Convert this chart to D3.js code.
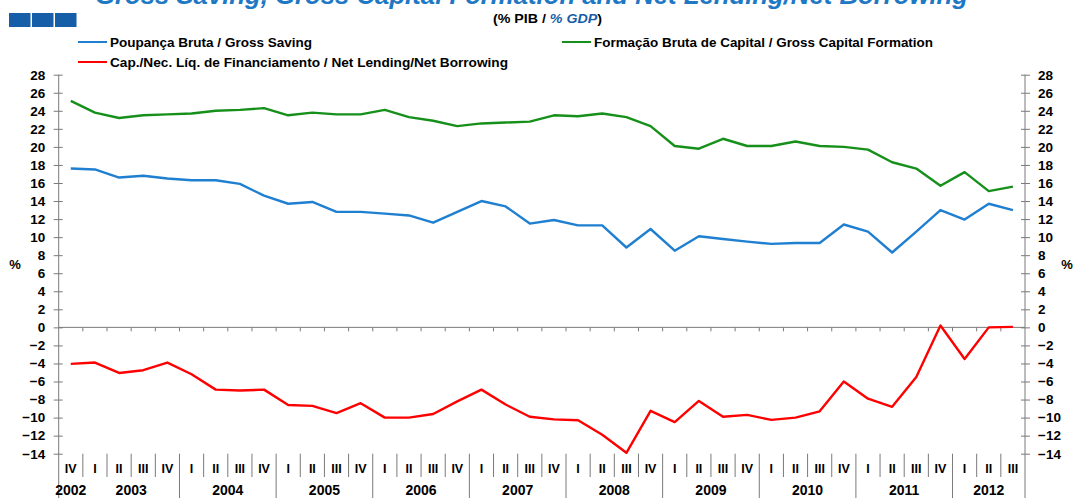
<!DOCTYPE html>
<html>
<head>
<meta charset="utf-8">
<script src="https://cdn.jsdelivr.net/npm/d3@7.9.0/dist/d3.min.js"></script>
<style>
  html, body { margin: 0; padding: 0; background: #fff; }
  svg { display: block; font-family: "Liberation Sans", Arial, sans-serif; }
</style>
</head>
<body>
<svg id="chart" width="1074" height="498"></svg>
<script>
// quarter labels, 2002 IV .. 2012 III
const quarterLabels = ['IV',
  'I','II','III','IV', 'I','II','III','IV', 'I','II','III','IV', 'I','II','III','IV',
  'I','II','III','IV', 'I','II','III','IV', 'I','II','III','IV', 'I','II','III','IV',
  'I','II','III','IV', 'I','II','III'];
const years = ['2002','2003','2004','2005','2006','2007','2008','2009','2010','2011','2012'];

// % of GDP
const grossSaving = [17.6,17.5,16.6,16.8,16.5,16.3,16.3,15.9,14.6,13.7,13.9,12.8,12.8,12.6,12.4,11.6,
  12.8,14.0,13.4,11.5,11.9,11.3,11.3,8.85,10.9,8.5,10.1,9.8,9.5,9.25,9.35,9.35,11.4,10.6,8.3,10.6,
  13.0,11.95,13.7,13.0];
const grossCapital = [25.1,23.8,23.2,23.5,23.6,23.7,24.0,24.1,24.3,23.5,23.8,23.6,23.6,24.1,23.3,22.9,
  22.3,22.6,22.7,22.8,23.5,23.4,23.7,23.3,22.3,20.1,19.8,20.9,20.1,20.1,20.6,20.1,20.0,19.7,18.3,17.6,
  15.7,17.2,15.1,15.6];
const netLending = [-4.05,-3.9,-5.05,-4.75,-3.9,-5.2,-6.9,-7.0,-6.9,-8.6,-8.7,-9.5,-8.4,-10.0,-10.0,-9.6,
  -8.2,-6.9,-8.55,-9.9,-10.2,-10.3,-11.9,-13.9,-9.25,-10.5,-8.15,-9.9,-9.7,-10.25,-10.0,-9.3,-6.0,-7.9,
  -8.8,-5.5,0.2,-3.5,0.0,0.05];

const yTicks = d3.range(-14, 29, 2);

const series = [
  { name: 'Poupança Bruta / Gross Saving', values: grossSaving, color: '#1f7fd0' },
  { name: 'Formação Bruta de Capital / Gross Capital Formation', values: grossCapital, color: '#16901a' },
  { name: 'Cap./Nec. Líq. de Financiamento / Net Lending/Net Borrowing', values: netLending, color: '#ff0000' }
];

const W = 1074, H = 498;
const plotL = 58.7, plotR = 1025, plotT = 74.7, plotB = 453.7;
const axisColor = '#7a7a7a';

const svg = d3.select('#chart');

const x = d3.scaleBand().domain(d3.range(quarterLabels.length)).range([plotL, plotR]);
const y = d3.scaleLinear().domain([-14, 28]).range([plotB, plotT]);
const cx = i => x(i) + x.bandwidth() / 2;

// title (cut off at the top, as in the source)
svg.append('text')
  .attr('x', 95).attr('y', 3.5)
  .attr('textLength', 873).attr('lengthAdjust', 'spacingAndGlyphs')
  .attr('font-size', 26).attr('font-weight', 'bold').attr('font-style', 'italic')
  .attr('fill', '#1f78c4')
  .text('Gross Saving, Gross Capital Formation and Net Lending/Net Borrowing');

// little blue blocks top left
svg.append('g').selectAll('rect').data([0, 1, 2]).join('rect')
  .attr('x', d => 9 + d * 23).attr('y', 13).attr('width', 21.5).attr('height', 14)
  .attr('fill', '#175ea8');

const sub = svg.append('text').attr('x', 493).attr('y', 23)
  .attr('textLength', 109).attr('lengthAdjust', 'spacingAndGlyphs')
  .attr('font-size', 12).attr('font-weight', 'bold').attr('fill', '#000');
sub.append('tspan').text('(% PIB / ');
sub.append('tspan').attr('fill', '#175ea8').attr('font-style', 'italic').text('% GDP');
sub.append('tspan').text(')');

// legend
const legendPos = [[78, 42], [562, 42], [78, 62]];
const legendWidth = [202, 339, 398];
const leg = svg.append('g');
series.forEach((s, i) => {
  const [lx, ly] = legendPos[i];
  leg.append('line').attr('x1', lx).attr('x2', lx + 29).attr('y1', ly).attr('y2', ly)
    .attr('stroke', s.color).attr('stroke-width', 2);
  leg.append('text').attr('x', lx + 32).attr('y', ly + 4.5)
    .attr('textLength', legendWidth[i]).attr('lengthAdjust', 'spacingAndGlyphs')
    .attr('font-size', 13.5).attr('font-weight', 'bold').text(s.name);
});

// y axes
function styleAxis(g, side) {
  g.select('.domain').remove();
  g.selectAll('.tick line').attr('stroke', axisColor)
    .attr('x1', side === 'left' ? 4 : -4).attr('x2', side === 'left' ? -5 : 5);
  g.selectAll('.tick text').attr('font-size', 13.5).attr('font-weight', 'bold')
    .attr('font-family', '"Liberation Sans", Arial, sans-serif').attr('fill', '#000');
}
svg.append('g').attr('transform', `translate(${plotL},0)`)
  .call(d3.axisLeft(y).tickValues(yTicks).tickSize(5).tickPadding(8.5))
  .call(g => styleAxis(g, 'left'));
svg.append('g').attr('transform', `translate(${plotR},0)`)
  .call(d3.axisRight(y).tickValues(yTicks).tickSize(5).tickPadding(8))
  .call(g => styleAxis(g, 'right'));

[plotL, plotR].forEach(ax => {
  svg.append('line').attr('x1', ax).attr('x2', ax).attr('y1', plotT).attr('y2', H)
    .attr('stroke', axisColor).attr('stroke-width', 1);
});

svg.append('text').attr('x', 15).attr('y', 269).attr('text-anchor', 'middle')
  .attr('font-size', 13).attr('font-weight', 'bold').text('%');
svg.append('text').attr('x', 1067).attr('y', 269).attr('text-anchor', 'middle')
  .attr('font-size', 13).attr('font-weight', 'bold').text('%');

// zero line with quarter ticks
svg.append('line').attr('x1', plotL).attr('x2', plotR).attr('y1', y(0)).attr('y2', y(0))
  .attr('stroke', axisColor);
svg.append('g').selectAll('line').data(d3.range(1, quarterLabels.length)).join('line')
  .attr('x1', d => x(d)).attr('x2', d => x(d))
  .attr('y1', y(0)).attr('y2', y(0) + 4).attr('stroke', axisColor);

// category axis below the plot
const cat = svg.append('g');
cat.selectAll('line.sep').data(d3.range(1, quarterLabels.length)).join('line')
  .attr('class', 'sep')
  .attr('x1', d => x(d)).attr('x2', d => x(d))
  .attr('y1', plotB)
  .attr('y2', d => (quarterLabels[d] === 'I' && d > 1) ? H : 477)
  .attr('stroke', axisColor);
cat.selectAll('text.q').data(quarterLabels).join('text')
  .attr('class', 'q')
  .attr('x', (d, i) => cx(i)).attr('y', 473)
  .attr('text-anchor', 'middle').attr('font-size', 12.5).attr('font-weight', 'bold')
  .text(d => d);

// year groups: a new year starts at every 'I'
const yearStarts = [0].concat(d3.range(1, quarterLabels.length).filter(i => quarterLabels[i] === 'I'));
cat.selectAll('text.yr').data(years).join('text')
  .attr('class', 'yr')
  .attr('x', (d, i) => {
    const a = yearStarts[i];
    const b = (i + 1 < yearStarts.length ? yearStarts[i + 1] : quarterLabels.length) - 1;
    return (cx(a) + cx(b)) / 2;
  })
  .attr('y', 495)
  .attr('text-anchor', 'middle').attr('font-size', 14).attr('font-weight', 'bold')
  .text(d => d);

// lines
const line = d3.line().x((d, i) => cx(i)).y(d => y(d));
series.forEach(s => {
  svg.append('path').datum(s.values)
    .attr('fill', 'none').attr('stroke', s.color).attr('stroke-width', 2.4)
    .attr('stroke-linejoin', 'round')
    .attr('d', line);
});
</script>
</body>
</html>
